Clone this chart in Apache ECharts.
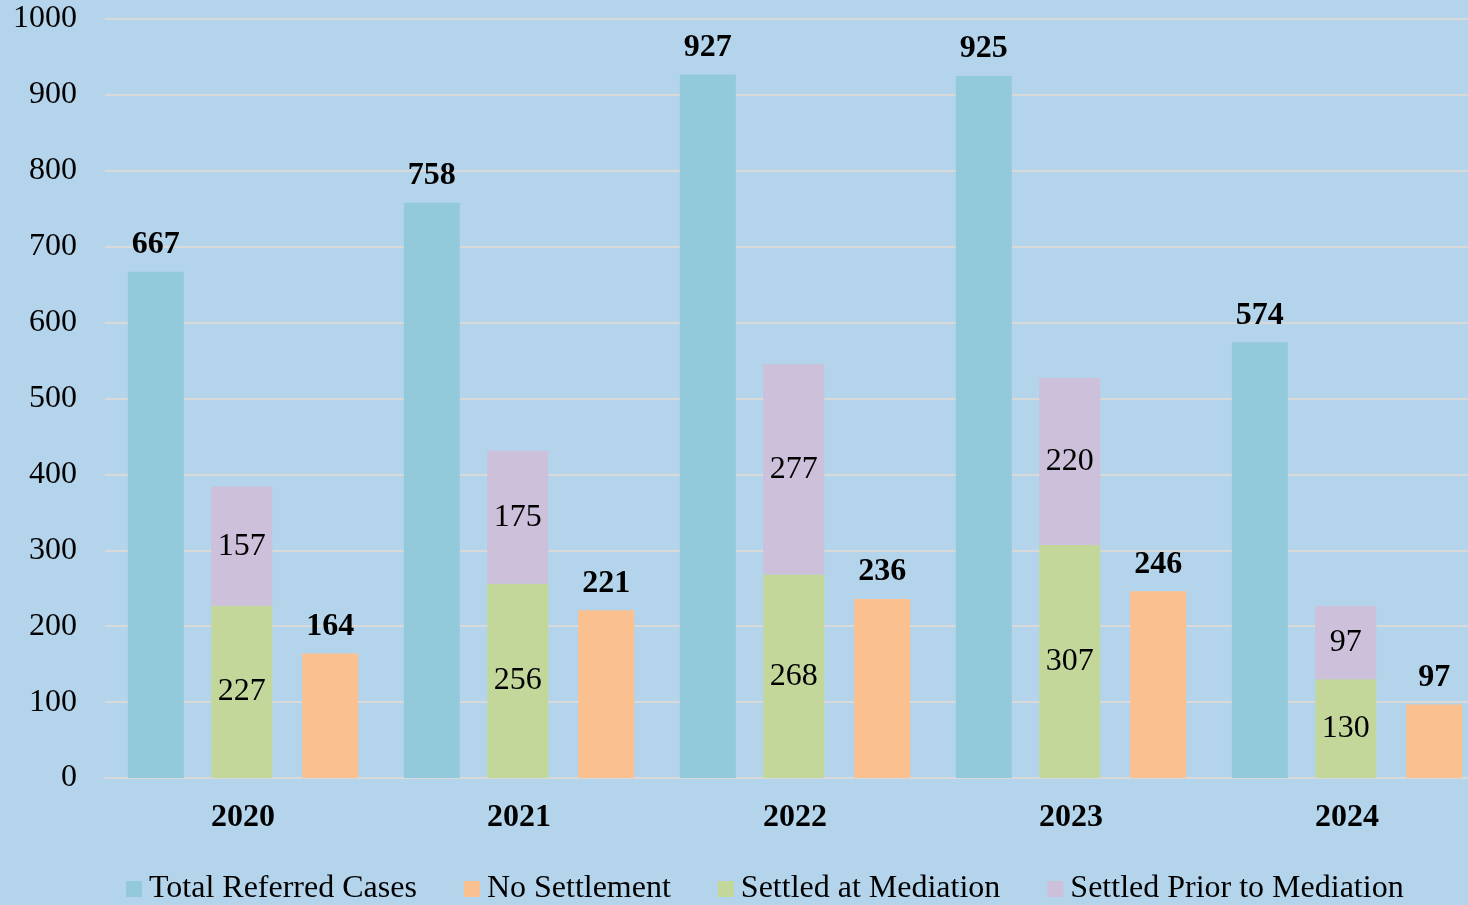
<!DOCTYPE html>
<html>
<head>
<meta charset="utf-8">
<script src="https://cdn.jsdelivr.net/npm/echarts@6/dist/echarts.min.js"></script>
<style>
  html, body { margin: 0; padding: 0; background: #b4d4ec; }
  #chart { width: 1468px; height: 905px; }
</style>
</head>
<body>
<div id="chart"></div>
<script>
// chart data
const years = ["2020", "2021", "2022", "2023", "2024"];
const totalReferred = [667, 758, 927, 925, 574];
const noSettlement = [164, 221, 236, 246, 97];
const settledAtMediation = [227, 256, 268, 307, 130];
const settledPrior = [157, 175, 277, 220, 97];
const yTicks = [0, 1000, 100];

const serif = "Liberation Serif";

const topLabel = {
    show: true,
    position: "top",
    distance: 11,
    fontFamily: serif,
    fontSize: 32,
    fontWeight: "bold",
    color: "#000",
};

const insideLabel = {
    show: true,
    position: "inside",
    fontFamily: serif,
    fontSize: 32,
    color: "#000",
};

const chart = echarts.init(document.getElementById("chart"));
chart.setOption({
    backgroundColor: "#b4d4ec",
    animation: false,
    // plot runs a little past the right edge, as in the original
    grid: { left: 105, width: 1380, top: 19, bottom: 127, outerBoundsMode: "none" },
    legend: {
        data: ["Total Referred Cases", "No Settlement", "Settled at Mediation", "Settled Prior to Mediation"],
        left: 121,
        top: 868,
        itemWidth: 16,
        itemHeight: 16,
        itemGap: 47,
        icon: "rect",
        textStyle: { fontFamily: serif, fontSize: 32, color: "#000", padding: [0, 0, 0, 2] },
    },
    xAxis: {
        type: "category",
        data: years,
        axisLine: { show: true, lineStyle: { color: "#d9d9d9", width: 2 } },
        axisTick: { show: false },
        axisLabel: {
            margin: 24,
            fontFamily: serif,
            fontSize: 32,
            fontWeight: "bold",
            color: "#000",
        },
    },
    yAxis: {
        type: "value",
        min: yTicks[0],
        max: yTicks[1],
        interval: yTicks[2],
        axisLine: { show: false },
        axisTick: { show: false },
        splitLine: { lineStyle: { color: "#d9d9d9", width: 2 } },
        axisLabel: {
            margin: 28,
            fontFamily: serif,
            fontSize: 32,
            color: "#000",
            formatter: (v) => String(v),
        },
    },
    series: [
        {
            name: "Total Referred Cases",
            type: "bar",
            data: totalReferred,
            barWidth: 56,
            barGap: "49%",
            itemStyle: { color: "#92cadc" },
            label: topLabel,
        },
        {
            name: "Settled at Mediation",
            type: "bar",
            stack: "settled",
            data: settledAtMediation,
            barWidth: 61,
            itemStyle: { color: "#c4d79b" },
            label: insideLabel,
        },
        {
            name: "Settled Prior to Mediation",
            type: "bar",
            stack: "settled",
            data: settledPrior,
            barWidth: 61,
            itemStyle: { color: "#ccc0da" },
            label: insideLabel,
        },
        {
            name: "No Settlement",
            type: "bar",
            data: noSettlement,
            barWidth: 56,
            itemStyle: { color: "#fac090" },
            label: topLabel,
        },
    ],
});
</script>
</body>
</html>
